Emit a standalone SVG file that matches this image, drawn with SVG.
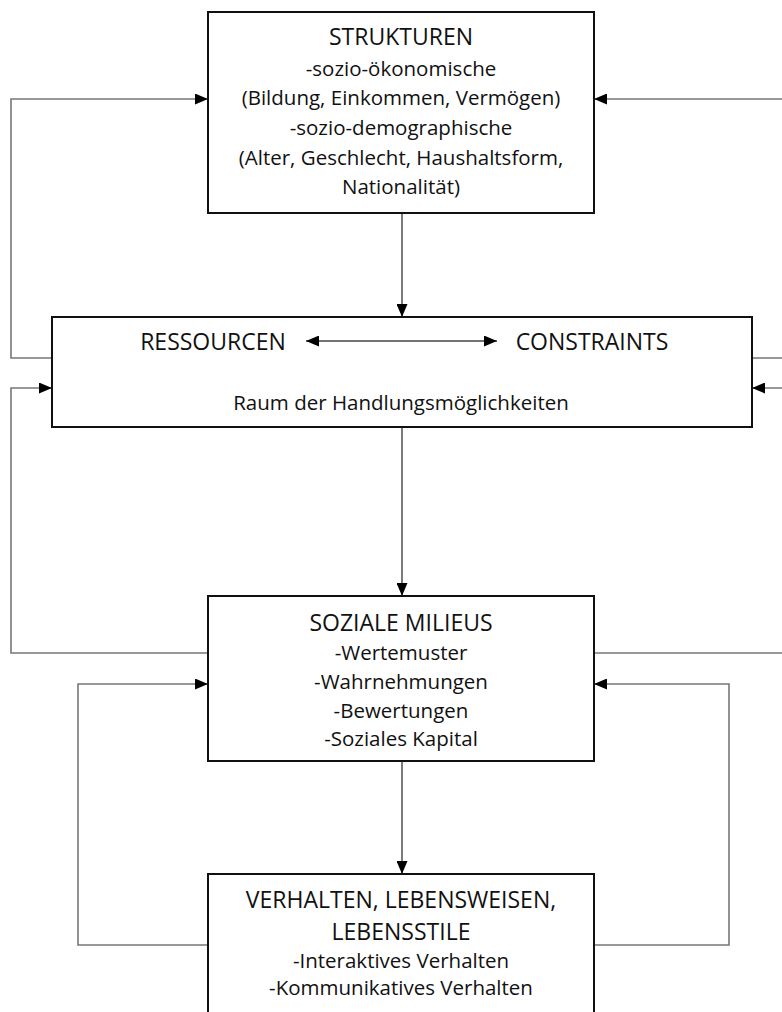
<svg xmlns="http://www.w3.org/2000/svg" width="782" height="1012" viewBox="0 0 782 1012">
<defs>
<marker id="ah" markerWidth="13" markerHeight="11" refX="13" refY="5.5" orient="auto-start-reverse" markerUnits="userSpaceOnUse">
<path d="M0,0 L13,5.5 L0,11 z" fill="#000"/>
</marker>
<style>
.box{fill:#fff;stroke:#111;stroke-width:2}
.t{font-family:"Open Sans","DejaVu Sans",sans-serif;fill:#111;text-anchor:middle}
.h{font-size:23px}
.b{font-size:20.5px}
.c{fill:none;stroke:#777;stroke-width:1.6}
.m{fill:none;stroke:#444;stroke-width:1.4}
</style>
</defs>
<rect width="782" height="1012" fill="#fff"/>
<g id="connectors">
<path class="c" d="M52,358 H11 V99 H208" marker-end="url(#ah)"/>
<path class="c" d="M208,653 H11 V388 H52" marker-end="url(#ah)"/>
<path class="c" d="M208,945 H78 V684 H208" marker-end="url(#ah)"/>
<path class="c" d="M752,358 H792 V99 H594" marker-end="url(#ah)"/>
<path class="c" d="M594,653 H792 V388 H752" marker-end="url(#ah)"/>
<path class="c" d="M594,945 H729 V684 H594" marker-end="url(#ah)"/>
<path class="m" d="M402,213 V317" marker-end="url(#ah)"/>
<path class="m" d="M402,427 V596" marker-end="url(#ah)"/>
<path class="m" d="M402,761 V874" marker-end="url(#ah)"/>
</g>
<g id="strukturen">
<rect class="box" x="208" y="12" width="386" height="201"/>
<text class="t h" x="401" y="45">STRUKTUREN</text>
<text class="t b" x="401" y="76">-sozio-ökonomische</text>
<text class="t b" x="401" y="105">(Bildung, Einkommen, Vermögen)</text>
<text class="t b" x="401" y="135">-sozio-demographische</text>
<text class="t b" x="401" y="165">(Alter, Geschlecht, Haushaltsform,</text>
<text class="t b" x="401" y="194">Nationalität)</text>
</g>
<g id="ressourcen">
<rect class="box" x="52" y="317" width="700" height="110"/>
<text class="t h" x="213" y="350">RESSOURCEN</text>
<text class="t h" x="592" y="350">CONSTRAINTS</text>
<path class="m" d="M306,341 H497" marker-start="url(#ah)" marker-end="url(#ah)"/>
<text class="t b" x="401" y="410">Raum der Handlungsmöglichkeiten</text>
</g>
<g id="milieus">
<rect class="box" x="208" y="596" width="386" height="165"/>
<text class="t h" x="401" y="631">SOZIALE MILIEUS</text>
<text class="t b" x="401" y="660">-Wertemuster</text>
<text class="t b" x="401" y="689">-Wahrnehmungen</text>
<text class="t b" x="401" y="718">-Bewertungen</text>
<text class="t b" x="401" y="746">-Soziales Kapital</text>
</g>
<g id="verhalten">
<rect class="box" x="208" y="874" width="386" height="160"/>
<text class="t h" x="401" y="908">VERHALTEN, LEBENSWEISEN,</text>
<text class="t h" x="401" y="940">LEBENSSTILE</text>
<text class="t b" x="401" y="968">-Interaktives Verhalten</text>
<text class="t b" x="401" y="995">-Kommunikatives Verhalten</text>
</g>
</svg>
